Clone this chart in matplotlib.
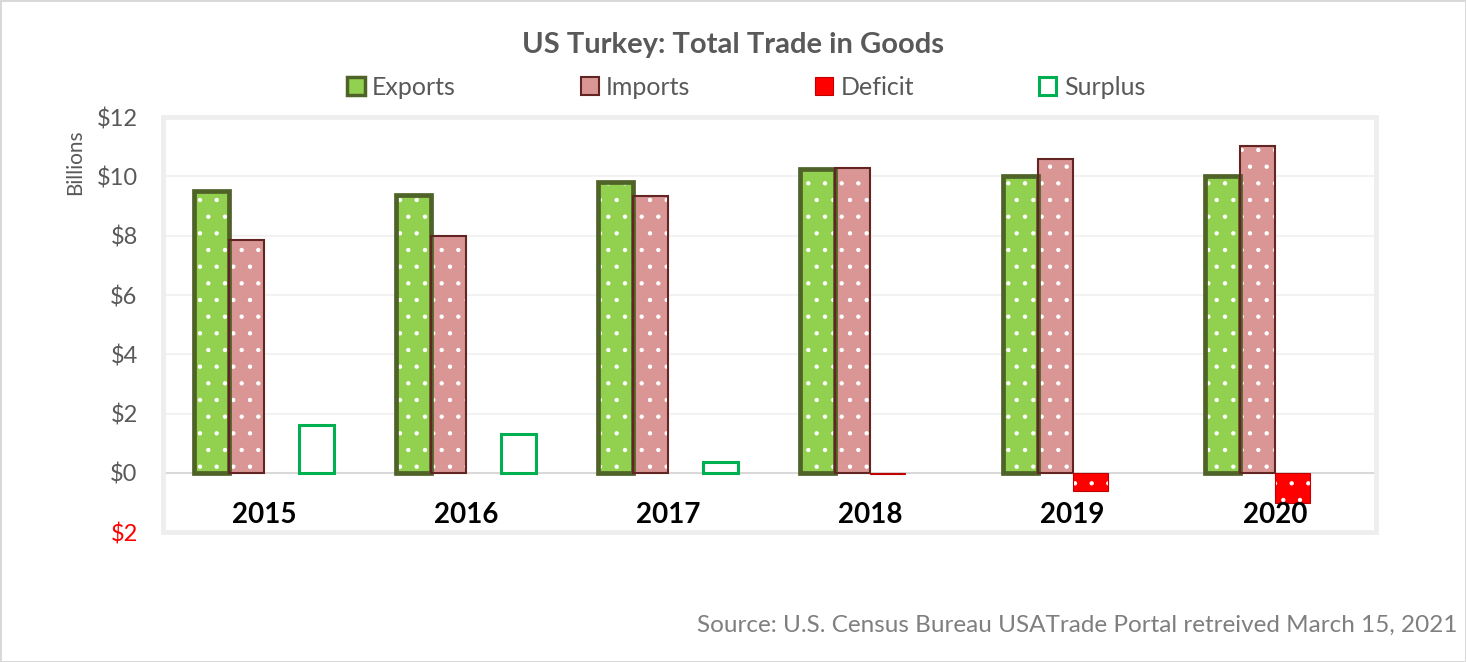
import matplotlib.pyplot as plt
import numpy as np

plt.rcParams['font.family'] = ['Lato', 'DejaVu Sans']
plt.rcParams['hatch.linewidth'] = 0.7

years = ['2015', '2016', '2017', '2018', '2019', '2020']
exports = [9.50, 9.38, 9.80, 10.25, 10.03, 10.00]
imports = [7.87, 8.00, 9.35, 10.28, 10.60, 11.02]
deficit = [0, 0, 0, -0.05, -0.62, -1.00]
surplus = [1.62, 1.33, 0.38, 0, 0, 0]
y_ticks = [-2, 0, 2, 4, 6, 8, 10, 12]
y_tick_labels = ['$2', '$0', '$2', '$4', '$6', '$8', '$10', '$12']

TEXT_GRAY = '#595959'
BAR_W = 0.173

fig = plt.figure(figsize=(14.66, 6.62), dpi=100)
fig.patch.set_edgecolor('#D9D9D9')
fig.patch.set_linewidth(2)
ax = fig.add_axes([0.111, 0.196, 0.8276, 0.627])

x = np.arange(len(years))
offsets = [-1.5, -0.5, 0.5, 1.5]

# (values, face, edge, edge width, dotted, label)
series = [
    (exports, '#92D050', '#4F6228', 3.4, True, 'Exports'),
    (imports, '#DA9694', '#632523', 1.5, True, 'Imports'),
    (deficit, '#FF0000', '#C00000', 0.8, True, 'Deficit'),
    (surplus, 'white', '#00B050', 2.2, False, 'Surplus'),
]

handles = []
for (vals, face, edge, lw, dotted, name), off in zip(series, offsets):
    vals = np.array(vals)
    keep = vals != 0  # Excel draws nothing for empty cells
    xs = (x + off * BAR_W)[keep]
    v = vals[keep]
    if dotted:
        ax.bar(xs, v, BAR_W, color=face, edgecolor='white', linewidth=0,
               hatch='.', zorder=2)
    else:
        ax.bar(xs, v, BAR_W, color=face, linewidth=0, zorder=2)
    ax.bar(xs, v, BAR_W, fill=False, edgecolor=edge, linewidth=lw, zorder=3)
    handles.append(plt.Rectangle((0, 0), 1, 1, facecolor=face, edgecolor=edge,
                                 linewidth=min(lw, 2.5), label=name))

ax.set_xlim(-0.5, len(years) - 0.5)
ax.set_ylim(-2, 12)
ax.set_yticks(y_ticks)
ax.set_yticklabels(y_tick_labels)
for lbl, val in zip(ax.get_yticklabels(), y_ticks):
    lbl.set_color('red' if val < 0 else TEXT_GRAY)
ax.tick_params(axis='y', length=0, labelsize=17, pad=18)
ax.set_xticks([])

for yv in [2, 4, 6, 8, 10]:
    ax.axhline(yv, color='#F2F2F2', linewidth=1.5, zorder=1)
ax.axhline(0, color='#D9D9D9', linewidth=1.5, zorder=1)

for s in ax.spines.values():
    s.set_color('#EEEEEE')
    s.set_linewidth(3.5)

for xi, yr in zip(x, years):
    ax.text(xi, -1.42, yr, ha='center', va='center', fontsize=20,
            fontweight='bold', color='black')

fig.text(0.051, 0.755, 'Billions', rotation=90, ha='center', va='center',
         fontsize=15, color=TEXT_GRAY)

fig.text(0.5, 0.932, 'US Turkey: Total Trade in Goods', ha='center',
         va='center', fontsize=21, fontweight='bold', color=TEXT_GRAY)

fig.legend(handles=handles, loc='center', bbox_to_anchor=(0.509, 0.868),
           ncol=4, frameon=False, fontsize=18, handlelength=0.7,
           handleheight=0.7, handletextpad=0.3, columnspacing=5.0,
           labelcolor=TEXT_GRAY)

fig.text(0.994, 0.055, 'Source: U.S. Census Bureau USATrade Portal retreived March 15, 2021',
         ha='right', va='center', fontsize=17.5, color='#7F7F7F')

fig.savefig('out.png', dpi=100, edgecolor=fig.get_edgecolor())
